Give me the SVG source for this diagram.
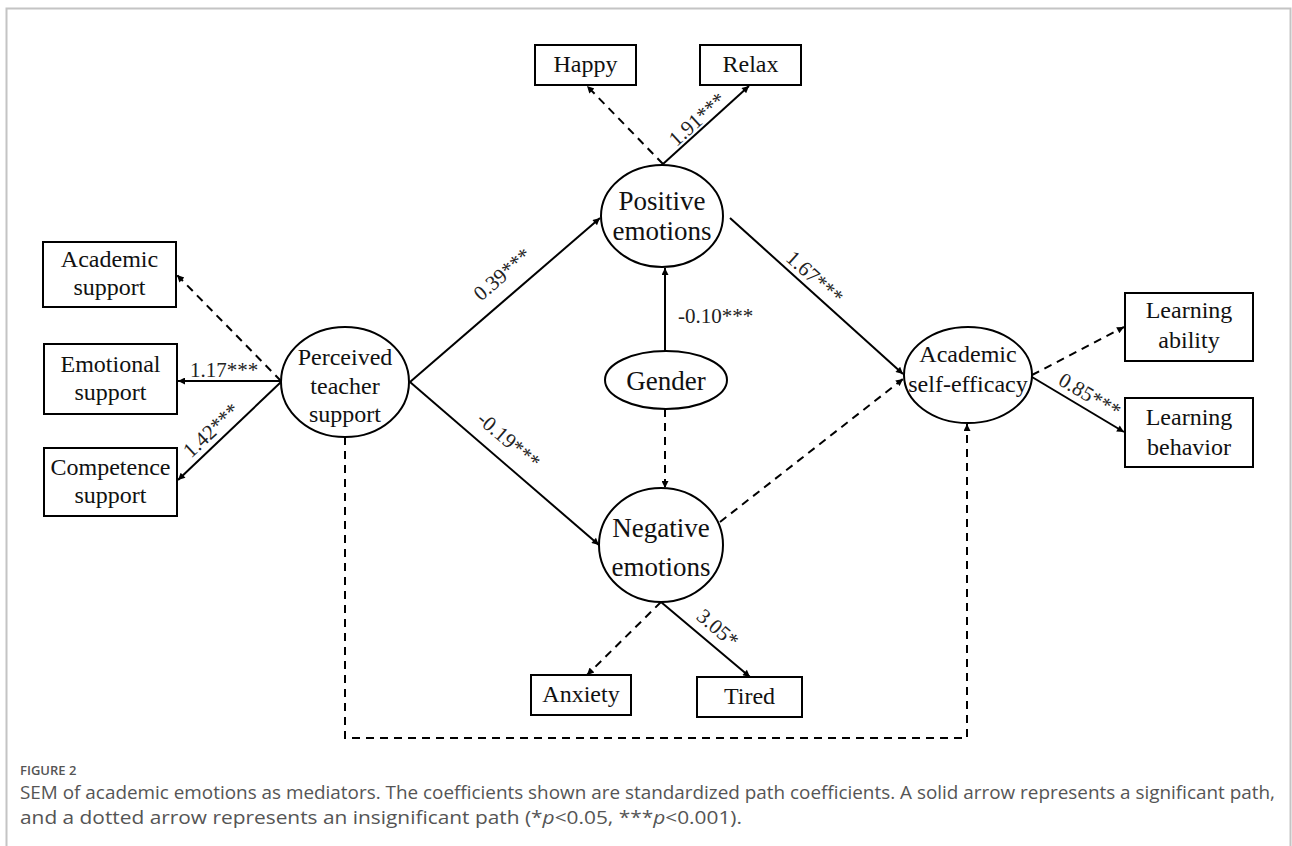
<svg xmlns="http://www.w3.org/2000/svg" width="1292" height="846" viewBox="0 0 1292 846">
<defs>
<style>
.box{fill:#fff;stroke:#000;stroke-width:2}
.ell{fill:#fff;stroke:#000;stroke-width:2}
.t{font-family:"Liberation Serif","Times New Roman",serif;font-size:24px;fill:#111;text-anchor:middle}
.tl{font-family:"Liberation Serif","Times New Roman",serif;font-size:27px;fill:#111;text-anchor:middle}
.c{font-family:"Liberation Serif","Times New Roman",serif;font-size:21px;fill:#222;text-anchor:middle}
.s{fill:none;stroke:#000;stroke-width:2;marker-end:url(#ah)}
.d{fill:none;stroke:#000;stroke-width:2;stroke-dasharray:8,6;marker-end:url(#ah)}
.cap{font-family:"Open Sans","Noto Sans",sans-serif;fill:#555}
</style>
<marker id="ah" viewBox="0 0 10 10" refX="10" refY="5" markerWidth="9" markerHeight="7" markerUnits="userSpaceOnUse" orient="auto">
<path d="M0,0 L10,5 L0,10 z" fill="#000"/>
</marker>
</defs>
<rect x="6.5" y="8.5" width="1284" height="860" fill="#fff" stroke="#c4c4c4" stroke-width="2"/>

<g id="connectors">
<line class="d" x1="663" y1="164" x2="587" y2="86"/>
<line class="s" x1="663" y1="164" x2="749" y2="86"/>
<line class="d" x1="281" y1="381" x2="177" y2="275"/>
<line class="s" x1="281" y1="381" x2="178" y2="381"/>
<line class="s" x1="281" y1="382" x2="178" y2="480"/>
<line class="s" x1="410" y1="382" x2="600" y2="218"/>
<line class="s" x1="410" y1="382" x2="599" y2="545"/>
<line class="s" x1="665" y1="351" x2="665" y2="268"/>
<line class="d" x1="665" y1="409" x2="665" y2="488"/>
<line class="s" x1="730" y1="218" x2="903" y2="374"/>
<line class="d" x1="720" y1="522" x2="903" y2="379"/>
<line class="d" x1="1032" y1="375" x2="1124" y2="327"/>
<line class="s" x1="1032" y1="377" x2="1124" y2="432"/>
<line class="d" x1="661" y1="602" x2="587" y2="675"/>
<line class="s" x1="661" y1="602" x2="750" y2="677"/>
<path class="d" d="M345,437 V738 H967 V424"/>
<text class="c" transform="translate(697,119) rotate(-42)" dy="0.35em">1.91***</text>
<text class="c" transform="translate(224,370)" dy="0.35em">1.17***</text>
<text class="c" transform="translate(211,430) rotate(-43)" dy="0.35em">1.42***</text>
<text class="c" transform="translate(502,274) rotate(-40.8)" dy="0.35em">0.39***</text>
<text class="c" transform="translate(509,440) rotate(40.6)" dy="0.35em">-0.19***</text>
<text class="c" x="678" y="323" style="text-anchor:start">-0.10***</text>
<text class="c" transform="translate(815,277) rotate(41.9)" dy="0.35em">1.67***</text>
<text class="c" transform="translate(1090,395) rotate(30.6)" dy="0.35em">0.85***</text>
<text class="c" transform="translate(718,628) rotate(40.5)" dy="0.35em">3.05*</text>
</g>

<g id="happy"><rect class="box" x="535" y="45" width="101" height="40"/><text class="t" x="585.5" y="72">Happy</text></g>
<g id="relax"><rect class="box" x="700" y="45" width="101" height="40"/><text class="t" x="750.5" y="72">Relax</text></g>
<g id="positive"><ellipse class="ell" cx="662" cy="216" rx="61" ry="51"/><text class="tl" x="662" y="210">Positive</text><text class="tl" x="662" y="240">emotions</text></g>
<g id="academic-support"><rect class="box" x="43" y="242" width="133" height="65"/><text class="t" x="109.5" y="267">Academic</text><text class="t" x="109.5" y="295">support</text></g>
<g id="emotional-support"><rect class="box" x="44" y="344" width="133" height="70"/><text class="t" x="110.5" y="372">Emotional</text><text class="t" x="110.5" y="400">support</text></g>
<g id="competence-support"><rect class="box" x="44" y="448" width="133" height="68"/><text class="t" x="110.5" y="475">Competence</text><text class="t" x="110.5" y="503">support</text></g>
<g id="perceived"><ellipse class="ell" cx="345" cy="382" rx="64" ry="55"/><text class="t" x="345" y="365">Perceived</text><text class="t" x="345" y="394">teacher</text><text class="t" x="345" y="422">support</text></g>
<g id="gender"><ellipse class="ell" cx="666" cy="380" rx="61" ry="29"/><text class="tl" x="666" y="390">Gender</text></g>
<g id="negative"><ellipse class="ell" cx="661" cy="545" rx="62" ry="57"/><text class="tl" x="661" y="537">Negative</text><text class="tl" x="661" y="576">emotions</text></g>
<g id="self-efficacy"><ellipse class="ell" cx="968" cy="375" rx="64" ry="48"/><text class="t" x="968" y="362">Academic</text><text class="t" x="968" y="392">self-efficacy</text></g>
<g id="learning-ability"><rect class="box" x="1125" y="293" width="128" height="68"/><text class="t" x="1189" y="318">Learning</text><text class="t" x="1189" y="348">ability</text></g>
<g id="learning-behavior"><rect class="box" x="1125" y="398" width="128" height="69"/><text class="t" x="1189" y="425">Learning</text><text class="t" x="1189" y="455">behavior</text></g>
<g id="anxiety"><rect class="box" x="531" y="675" width="100" height="40"/><text class="t" x="581" y="702">Anxiety</text></g>
<g id="tired"><rect class="box" x="697" y="677" width="105" height="40"/><text class="t" x="749.5" y="704">Tired</text></g>

<g id="caption">
<text class="cap" x="20" y="775" font-size="13" font-weight="600" fill="#555">FIGURE 2</text>
<text class="cap" x="20" y="799" font-size="18" textLength="1255" lengthAdjust="spacingAndGlyphs">SEM of academic emotions as mediators. The coefficients shown are standardized path coefficients. A solid arrow represents a significant path,</text>
<text class="cap" x="20" y="824" font-size="18" textLength="722" lengthAdjust="spacingAndGlyphs">and a dotted arrow represents an insignificant path (*<tspan font-style="italic">p</tspan>&lt;0.05, ***<tspan font-style="italic">p</tspan>&lt;0.001).</text>
</g>
</svg>
